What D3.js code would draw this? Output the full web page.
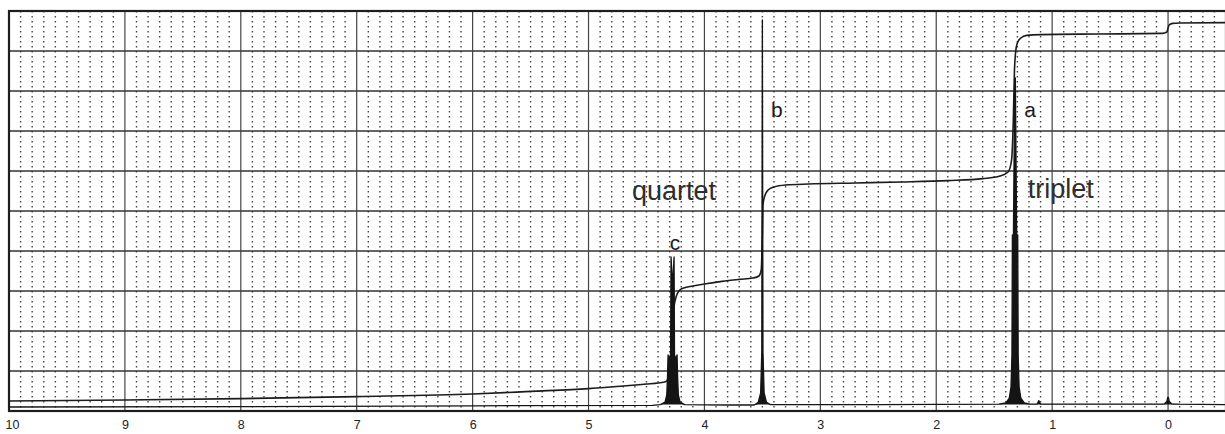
<!DOCTYPE html>
<html>
<head>
<meta charset="utf-8">
<script src="https://cdn.jsdelivr.net/npm/d3@7"></script>
<style>
  html, body { margin: 0; padding: 0; background: #fff; }
  svg { display: block; }
</style>
</head>
<body>
<svg id="chart" width="1225" height="434"></svg>
<script>
// Chemical-shift tick labels (ppm)
const ppmTicks = [10, 9, 8, 7, 6, 5, 4, 3, 2, 1, 0];

// 1H NMR trace: [ppm, relative intensity on a 0-100 chart scale]
const spectrum = [
  [10.0, 1.0], [8.0, 1.1], [6.0, 1.3], [4.45, 1.4], [4.38, 1.6], [4.34, 2.2],
  [4.325, 4], [4.318, 9], [4.314, 14], [4.306, 13], [4.292, 14],
  [4.288, 38.5], [4.280, 34], [4.270, 34], [4.262, 38.5], [4.258, 14],
  [4.244, 13], [4.236, 14], [4.232, 9], [4.225, 4], [4.21, 2.2], [4.17, 1.6],
  [3.80, 1.5], [3.57, 1.5], [3.535, 2.2], [3.515, 4.5], [3.505, 15],
  [3.50, 97.8], [3.495, 15], [3.485, 4.5], [3.465, 2.2], [3.43, 1.6],
  [2.50, 1.6], [1.46, 1.7], [1.40, 2.0], [1.37, 3.2], [1.355, 6],
  [1.347, 14], [1.343, 44], [1.335, 41], [1.3225, 83.25], [1.3175, 83.25],
  [1.305, 41], [1.297, 44], [1.293, 14], [1.285, 6], [1.27, 3.2],
  [1.24, 2.0], [1.19, 1.7], [1.13, 1.7], [1.115, 2.6], [1.10, 1.7],
  [0.10, 1.7], [0.03, 1.8], [0.01, 2.4], [0.003, 3.4], [-0.003, 3.4],
  [-0.01, 2.4], [-0.03, 1.8], [-0.10, 1.7], [-0.50, 1.6]
];

// Integral trace: [ppm, height on the same 0-100 scale]
const integral = [
  [10.0, 2.5], [9.0, 2.75], [8.0, 3.1], [7.0, 3.6], [6.0, 4.25], [5.5, 4.9],
  [5.0, 5.6], [4.7, 6.25], [4.5, 6.75], [4.4, 7.0], [4.33, 7.4],
  [4.30, 10.25], [4.28, 20.25], [4.26, 26.5], [4.245, 28.5], [4.22, 30],
  [4.18, 30.75], [4.10, 31.25], [4.00, 31.75], [3.85, 32.4], [3.70, 32.9],
  [3.58, 33.25], [3.53, 33.75], [3.51, 35.25], [3.50, 44], [3.495, 51.5],
  [3.48, 53.75], [3.45, 55.25], [3.40, 56.0], [3.30, 56.5], [3.10, 56.75],
  [2.70, 57.0], [2.30, 57.25], [1.90, 57.6], [1.60, 58.1], [1.45, 58.75],
  [1.38, 59.75], [1.35, 62.75], [1.335, 72.75], [1.325, 85.25], [1.315, 89.75],
  [1.30, 92.0], [1.27, 93.25], [1.22, 93.9], [1.10, 94.1], [0.60, 94.25],
  [0.05, 94.4], [0.01, 94.75], [0.00, 95.75], [-0.01, 96.5], [-0.04, 96.9],
  [-0.10, 97.0], [-0.50, 97.1]
];

// Peak letters and multiplicity notes: [text, ppm, height]
const peakLetters = [["c", 4.30, 40.3], ["b", 3.425, 73.5], ["a", 1.24, 73.5]];
const notes = [["quartet", 4.625, 52.75], ["triplet", 1.21, 53.3]];

const svg = d3.select("#chart");
const plotLeft = 9, plotRight = 1226, plotTop = 11, plotBottom = 411;

const x = d3.scaleLinear().domain([10, -0.5]).range([plotLeft, plotRight]);
const y = d3.scaleLinear().domain([0, 100]).range([plotBottom, plotTop]);

const grid = svg.append("g");

// minor vertical dotted rules every 0.1 ppm
const minor = d3.range(99, -5, -1).map(d => d / 10).filter(d => Math.abs(d - Math.round(d)) > 1e-6);
grid.selectAll("line.minor").data(minor).join("line")
  .attr("x1", d => x(d)).attr("x2", d => x(d))
  .attr("y1", plotTop).attr("y2", plotBottom)
  .attr("stroke", "#444").attr("stroke-width", 1.4)
  .attr("stroke-dasharray", "1.6 3.4");

// major horizontal rules
grid.selectAll("line.h").data(d3.range(0, 101, 10)).join("line")
  .attr("x1", plotLeft).attr("x2", plotRight)
  .attr("y1", d => y(d)).attr("y2", d => y(d))
  .attr("stroke", "#333").attr("stroke-width", 1.6);

// major vertical rules every 1 ppm
grid.selectAll("line.v").data(ppmTicks).join("line")
  .attr("x1", d => x(d)).attr("x2", d => x(d))
  .attr("y1", plotTop).attr("y2", plotBottom)
  .attr("stroke", "#444").attr("stroke-width", 1.2);

// frame
svg.append("rect")
  .attr("x", plotLeft).attr("y", plotTop)
  .attr("width", plotRight - plotLeft).attr("height", plotBottom - plotTop)
  .attr("fill", "none").attr("stroke", "#1e1e1e").attr("stroke-width", 2.2);

// integral curve
svg.append("path")
  .datum(integral)
  .attr("fill", "none").attr("stroke", "#1c1c1c").attr("stroke-width", 1.6)
  .attr("d", d3.line().x(d => x(d[0])).y(d => y(d[1])).curve(d3.curveMonotoneX));

// spectrum: filled peaks with an outline
svg.append("path")
  .datum(spectrum)
  .attr("fill", "#141414")
  .attr("d", d3.area().x(d => x(d[0])).y0(d => y(Math.min(d[1], 1.6))).y1(d => y(d[1])));
svg.append("path")
  .datum(spectrum)
  .attr("fill", "none").attr("stroke", "#141414").attr("stroke-width", 1.3)
  .attr("stroke-linejoin", "round")
  .attr("d", d3.line().x(d => x(d[0])).y(d => y(d[1])));

// axis labels
const axis = d3.axisBottom(x).tickValues(ppmTicks).tickSize(0).tickPadding(0).tickFormat(d3.format("d"));
const ax = svg.append("g").attr("transform", `translate(0,${plotBottom + 9})`).call(axis);
ax.select(".domain").remove();
ax.selectAll("text")
  .attr("font-family", "'Liberation Sans', Arial, sans-serif")
  .attr("font-size", 12.5).attr("fill", "#222").attr("dy", "0.71em")
  .attr("dx", d => d === 10 ? 3 : 0);

// peak letters
svg.selectAll("text.peak").data(peakLetters).join("text")
  .attr("x", d => x(d[1])).attr("y", d => y(d[2]))
  .attr("font-family", "'Liberation Sans', Arial, sans-serif")
  .attr("font-size", 21).attr("fill", "#1a1a1a")
  .text(d => d[0]);

// multiplicity notes
svg.selectAll("text.note").data(notes).join("text")
  .attr("x", d => x(d[1])).attr("y", d => y(d[2]))
  .attr("font-family", "'Liberation Sans', Arial, sans-serif")
  .attr("font-size", 27).attr("fill", "#2e2e2e")
  .text(d => d[0]);
</script>
</body>
</html>
